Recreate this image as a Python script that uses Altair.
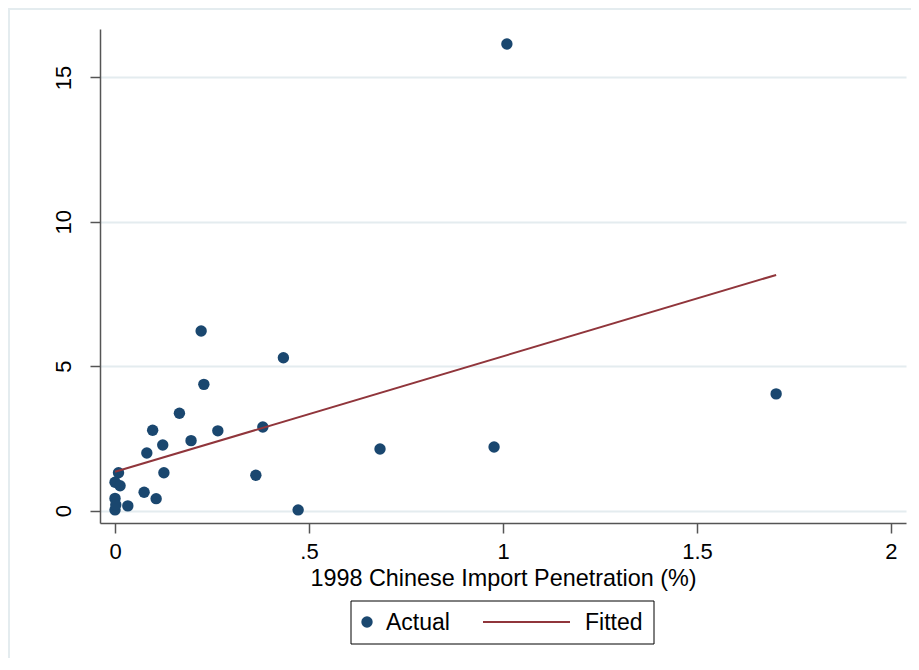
import altair as alt
import pandas as pd

# ---- data ----
x_actual = [1.010, 0.222, 0.434, 0.229, 0.166, 0.097, 0.265, 0.381, 0.196, 0.123,
            0.082, 0.126, 0.363, 0.683, 0.977, 1.704, 0.472, 0.009, 0.000, 0.013,
            0.075, 0.106, 0.000, 0.000, 0.033, 0.002]
y_actual = [16.16, 6.22, 5.29, 4.37, 3.37, 2.78, 2.76, 2.89, 2.42, 2.27,
            1.99, 1.31, 1.22, 2.13, 2.20, 4.04, 0.02, 1.31, 0.98, 0.86,
            0.63, 0.41, 0.42, 0.02, 0.16, 0.20]
fit_x = [0.0, 1.704]
fit_y = [1.34, 8.16]
x_ticks = [0, 0.5, 1, 1.5, 2]
x_tick_labels = ["0", ".5", "1", "1.5", "2"]
y_ticks = [0, 5, 10, 15]
x_title = "1998 Chinese Import Penetration (%)"
legend_labels = ["Actual", "Fitted"]

NAVY = "#1a476f"
MAROON = "#90353b"
GRID = "#e4ecef"
AXIS = "#555555"
FONT = "Liberation Sans"
FS = 22
W, H = 806, 494

pts = pd.DataFrame({"x": x_actual, "y": y_actual})
fit = pd.DataFrame({"x": fit_x, "y": fit_y})
legend_df = pd.DataFrame({"label": legend_labels})
one = pd.DataFrame({"k": [0]})

xscale = alt.Scale(domain=[-0.0387, 2.0387], nice=False, zero=False)
yscale = alt.Scale(domain=[-0.433, 16.68], nice=False, zero=False)

label_expr = " : ".join(
    f"datum.value == {v} ? '{l}'" for v, l in zip(x_ticks, x_tick_labels)
) + " : ''"

xaxis = alt.Axis(
    values=x_ticks, labelExpr=label_expr, title=x_title, grid=False,
    domainColor=AXIS, domainWidth=1.5, tickColor=AXIS, tickWidth=1.5, tickSize=10,
    labelPadding=8, labelBaseline="top", labelFlush=False, labelOverlap=False,
    labelFontSize=FS, labelColor="black", labelFont=FONT,
    titleFontSize=23.4, titleFontWeight="normal", titleColor="black", titleFont=FONT,
    titleBaseline="alphabetic", titleY=62,
)
yaxis = alt.Axis(
    values=y_ticks, title=None, grid=True, gridColor=GRID, gridWidth=2,
    domainColor=AXIS, domainWidth=1.5, tickColor=AXIS, tickWidth=1.5, tickSize=10,
    labelAngle=270, labelAlign="center", labelBaseline="alphabetic", labelPadding=20,
    labelFlush=False, labelOverlap=False,
    labelFontSize=FS, labelColor="black", labelFont=FONT,
)

frame = alt.Chart(one).mark_rect(fillOpacity=0, stroke=GRID, strokeWidth=2).encode(
    x=alt.value(-91), x2=alt.value(900), y=alt.value(-20), y2=alt.value(700)
)

points = alt.Chart(pts).mark_circle(size=130, opacity=1, color=NAVY).encode(
    x=alt.X("x:Q", scale=xscale, axis=xaxis),
    y=alt.Y("y:Q", scale=yscale, axis=yaxis),
)
line = alt.Chart(fit).mark_line(color=MAROON, strokeWidth=2).encode(
    x=alt.X("x:Q", scale=xscale),
    y=alt.Y("y:Q", scale=yscale),
)

leg_box = alt.Chart(one).mark_rect(fill="white", stroke="black", strokeWidth=1).encode(
    x=alt.value(251), x2=alt.value(554), y=alt.value(572), y2=alt.value(615)
)
leg_dot = alt.Chart(one).mark_circle(size=130, opacity=1, color=NAVY).encode(
    x=alt.value(267), y=alt.value(593)
)
leg_line = alt.Chart(one).mark_rule(color=MAROON, strokeWidth=2).encode(
    x=alt.value(383), x2=alt.value(470), y=alt.value(593)
)
leg_t1 = alt.Chart(legend_df).transform_filter(alt.datum.label == legend_labels[0]).mark_text(
    align="left", baseline="middle", fontSize=23, font=FONT, color="black"
).encode(text="label:N", x=alt.value(286), y=alt.value(594))
leg_t2 = alt.Chart(legend_df).transform_filter(alt.datum.label == legend_labels[1]).mark_text(
    align="left", baseline="middle", fontSize=23, font=FONT, color="black"
).encode(text="label:N", x=alt.value(485), y=alt.value(594))

chart = alt.layer(
    frame, points, line, leg_box, leg_dot, leg_line, leg_t1, leg_t2
).properties(
    width=W, height=H,
    padding={"left": 92, "top": 21, "right": 5, "bottom": 135},
    autosize=alt.AutoSizeParams(type="none"),
    background="white",
).configure_view(strokeWidth=0)

chart.save("out.html", embed_options={"renderer": "svg", "actions": False})
